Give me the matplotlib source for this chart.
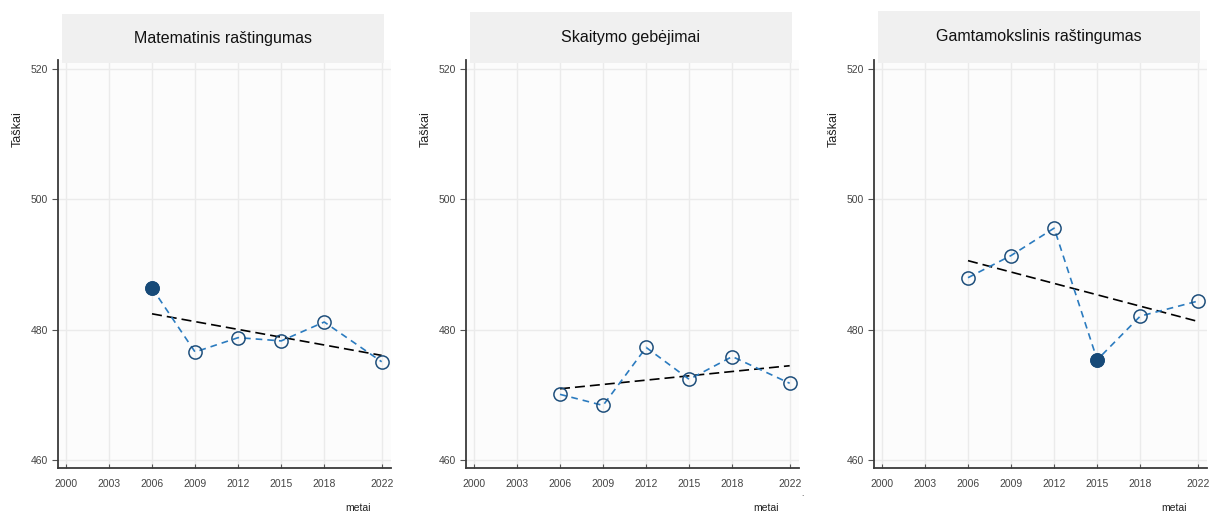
import matplotlib
matplotlib.use("Agg")
import matplotlib.pyplot as plt
from matplotlib.patches import Rectangle
import numpy as np

plt.rcParams["font.family"] = ["Liberation Sans", "DejaVu Sans"]

# ==========================================================
# Data
# ==========================================================

years = [2006, 2009, 2012, 2015, 2018, 2022]

titles = [
    "Matematinis raštingumas",
    "Skaitymo gebėjimai",
    "Gamtamokslinis raštingumas",
]

math_scores = [486.4, 476.6, 478.8, 478.3, 481.2, 475.1]
reading_scores = [470.1, 468.4, 477.3, 472.4, 475.9, 471.8]
science_scores = [488.0, 491.4, 495.6, 475.4, 482.1, 484.4]

# index of the highlighted (filled) point in each series
highlight = [0, None, 3]

x_ticks = [2000, 2003, 2006, 2009, 2012, 2015, 2018, 2022]
y_ticks = [460, 480, 500, 520]

series = [math_scores, reading_scores, science_scores]

LINE_BLUE = "#2b7bbf"
EDGE_NAVY = "#1f4f7c"
FILL_NAVY = "#174a78"

fig = plt.figure(figsize=(12.09, 5.14), dpi=100)

lefts = [58, 466, 874]
strip_tops = [14, 12, 11]

for i in range(3):

    ax = fig.add_axes([
        lefts[i] / 1209,
        1 - 468 / 514,
        333 / 1209,
        408 / 514,
    ])

    ax.set_facecolor("#fcfcfc")

    vals = np.array(series[i])
    yrs = np.array(years)

    ax.plot(
        yrs, vals,
        linestyle=(0, (4, 3)),
        color=LINE_BLUE,
        linewidth=1.2,
        marker="o",
        markersize=9.5,
        markerfacecolor="none",
        markeredgecolor=EDGE_NAVY,
        markeredgewidth=1.1,
        zorder=3,
    )

    if highlight[i] is not None:
        h = highlight[i]
        ax.plot(
            yrs[h], vals[h],
            marker="o",
            markersize=9.5,
            color=FILL_NAVY,
            linestyle="none",
            zorder=4,
        )

    # linear trend
    coef = np.polyfit(yrs, vals, 1)
    ax.plot(
        yrs[[0, -1]],
        np.polyval(coef, yrs[[0, -1]]),
        linestyle=(0, (6, 3)),
        color="black",
        linewidth=1.2,
        zorder=2,
    )

    ax.set_xlim(1999.45, 2022.65)
    ax.set_ylim(458.8, 521.4)

    ax.set_xticks(x_ticks)
    ax.set_yticks(y_ticks)

    ax.grid(True, color="#ebebeb", linewidth=1.0)
    ax.set_axisbelow(True)

    for side in ["top", "right"]:
        ax.spines[side].set_visible(False)
    for side in ["left", "bottom"]:
        ax.spines[side].set_color("#3a3a3a")
        ax.spines[side].set_linewidth(1.3)

    ax.tick_params(axis="x", direction="in", length=3,
                   color="#555555", labelsize=7.5,
                   labelcolor="#444444", pad=8)
    ax.tick_params(axis="y", direction="out", length=4,
                   color="#555555", labelsize=7.5,
                   labelcolor="#444444", pad=3)

    ax.set_ylabel("Taškai", fontsize=9, color="#222222")
    ax.yaxis.set_label_coords(-0.102, 0.83)

    ax.text(0.90, -0.098, "metai", transform=ax.transAxes,
            fontsize=7.5, color="#222222", ha="center", va="center")

    if i == 1:
        ax.text(1.01, -0.065, ".", transform=ax.transAxes,
                fontsize=6, color="#222222", ha="center", va="center")

    # title strip
    top = strip_tops[i]
    ax.add_patch(Rectangle(
        (4 / 333, (468 - 63) / 408),
        322 / 333,
        (63 - top) / 408,
        transform=ax.transAxes,
        facecolor="#f0f0f0",
        edgecolor="none",
        clip_on=False,
        zorder=5,
    ))

    ax.text(
        165 / 333, (468 - (top + 63) / 2) / 408,
        titles[i],
        transform=ax.transAxes,
        fontsize=11.5,
        ha="center", va="center",
        color="#111111",
        zorder=6,
    )

fig.savefig("out.png", dpi=100)
plt.close(fig)
